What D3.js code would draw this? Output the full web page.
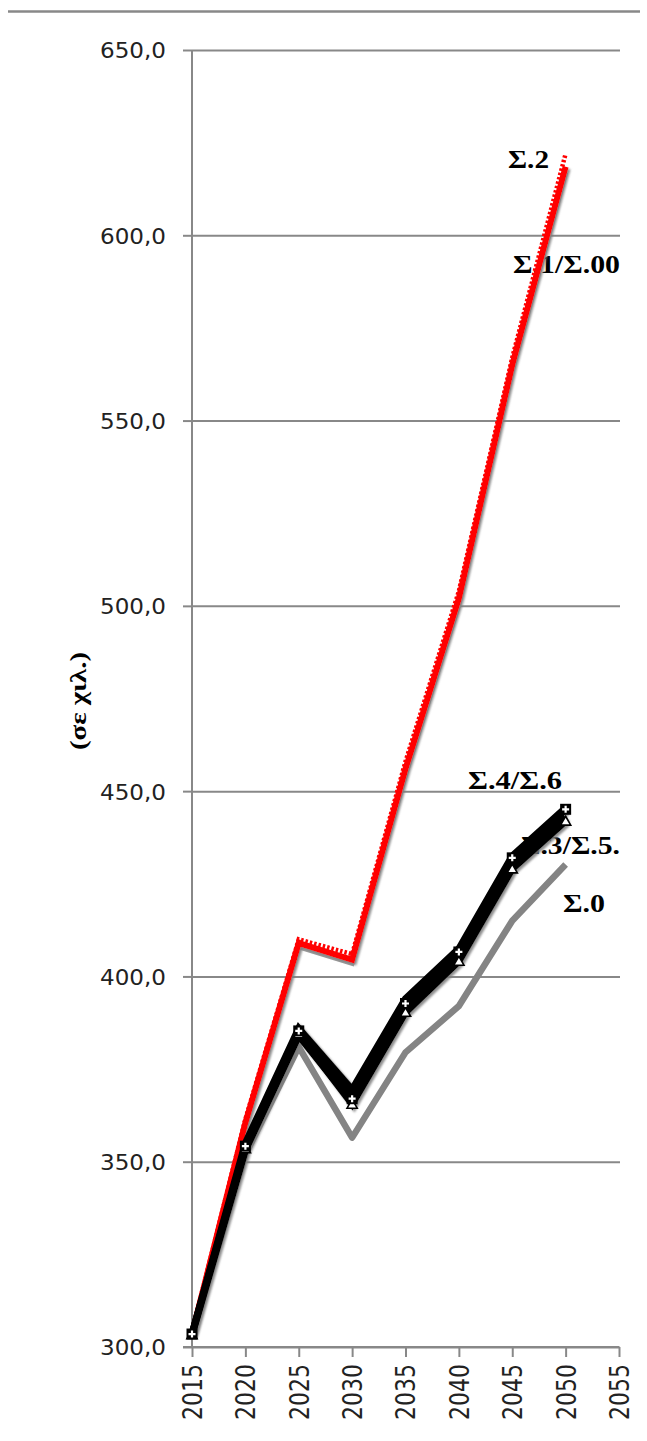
<!DOCTYPE html>
<html>
<head>
<meta charset="utf-8">
<script src="https://cdn.jsdelivr.net/npm/d3@7/dist/d3.min.js"></script>
<style>
  html, body { margin: 0; padding: 0; background: #fff; }
  svg { display: block; }
</style>
</head>
<body>
<svg id="chart" width="647" height="1441"></svg>
<script>
// ---- data ----
const years  = [2015, 2020, 2025, 2030, 2035, 2040, 2045, 2050];
const xTicks = [2015, 2020, 2025, 2030, 2035, 2040, 2045, 2050, 2055];
const yTicks = [300, 350, 400, 450, 500, 550, 600, 650];

const s2  = [304.0, 361.5, 410.0, 406.0, 458.0, 504.0, 567.0, 622.0]; // Σ.2 (dotted red)
const s1  = [303.5, 360.5, 409.0, 404.5, 456.0, 502.0, 565.0, 618.5]; // Σ.1 (red)
const s00 = [303.0, 359.5, 408.0, 403.5, 454.5, 500.5, 563.5, 617.0]; // Σ.00 (grey under red)
const s4  = [303.5, 354.2, 385.3, 367.0, 392.7, 406.6, 432.0, 445.1]; // Σ.4
const s6  = [303.5, 355.0, 386.0, 369.5, 394.0, 407.5, 432.5, 445.5]; // Σ.6
const s3  = [303.3, 353.5, 384.5, 365.5, 390.3, 404.1, 429.0, 441.9]; // Σ.3
const s5  = [303.3, 353.0, 384.0, 366.0, 390.5, 404.5, 430.0, 443.0]; // Σ.5
const s0  = [303.0, 352.0, 381.0, 356.5, 379.5, 392.0, 415.0, 430.2]; // Σ.0

const seriesLabels = ["Σ.2", "Σ.1/Σ.00", "Σ.4/Σ.6", "Σ.3/Σ.5.", "Σ.0"];
const yTitle = "(σε χιλ.)";

// ---- layout ----
const svg = d3.select("#chart");
const x = d3.scaleLinear().domain([2015, 2055]).range([192, 619]);
const y = d3.scaleLinear().domain([300, 650]).range([1347, 50]);
const fmt = v => d3.format(".1f")(v).replace(".", ",");

const defs = svg.append("defs");
const f = defs.append("filter").attr("id", "sh").attr("x", "-20%").attr("y", "-20%").attr("width", "140%").attr("height", "140%");
f.append("feDropShadow").attr("dx", 2).attr("dy", 2).attr("stdDeviation", 0.8)
  .attr("flood-color", "#7a7a7a").attr("flood-opacity", 0.85);

// top rule
svg.append("line").attr("x1", 8).attr("x2", 640).attr("y1", 11.5).attr("y2", 11.5)
  .attr("stroke", "#888").attr("stroke-width", 2.5);

// gridlines
const grid = svg.append("g").attr("transform", `translate(${x(2015)},0)`)
  .call(d3.axisLeft(y).tickValues(yTicks).tickSize(-(x(2055) + 1 - x(2015))).tickFormat(""));
grid.select(".domain").remove();
grid.selectAll(".tick line").attr("stroke", "#888").attr("stroke-width", 2);

// y axis with labels
const ya = svg.append("g").attr("transform", `translate(${x(2015)},0)`)
  .call(d3.axisLeft(y).tickValues(yTicks).tickSize(9).tickPadding(17).tickFormat(fmt));
ya.select(".domain").attr("stroke", "#888").attr("stroke-width", 2).attr("d", `M0,${y(650)}V${y(300)}`);
ya.selectAll(".tick line").attr("stroke", "#888").attr("stroke-width", 2);
ya.selectAll(".tick text")
  .attr("font-family", "'DejaVu Sans', sans-serif").attr("font-size", 22)
  .attr("fill", "#222").attr("dy", "0.36em")
  .attr("textLength", 66).attr("lengthAdjust", "spacingAndGlyphs");

// x axis
const xa = svg.append("g").attr("transform", `translate(0,${y(300)})`)
  .call(d3.axisBottom(x).tickValues(xTicks).tickSize(10).tickFormat(d3.format("d")));
xa.select(".domain").attr("stroke", "#888").attr("stroke-width", 2).attr("d", `M${x(2015) - 9},0H${x(2055)}`);
xa.selectAll(".tick line").attr("stroke", "#888").attr("stroke-width", 2);
xa.selectAll(".tick text")
  .attr("font-family", "'DejaVu Sans', sans-serif").attr("font-size", 26)
  .attr("fill", "#222")
  .attr("transform", "translate(0,17) rotate(-90)")
  .attr("text-anchor", "end").attr("x", 0).attr("y", 0).attr("dy", "0.36em")
  .attr("textLength", 56).attr("lengthAdjust", "spacingAndGlyphs");

// y axis title
svg.append("text")
  .attr("transform", `translate(86,701) rotate(-90)`)
  .attr("text-anchor", "middle")
  .attr("font-family", "'Liberation Serif', serif").attr("font-weight", "bold").attr("font-size", 24)
  .attr("textLength", 98).attr("lengthAdjust", "spacingAndGlyphs")
  .text(yTitle);

// series labels (behind lines)
const labelPos = [[508, 168, 41], [513, 273, 107], [468, 789, 94], [521, 854, 99], [563, 912, 42]];
svg.append("g").selectAll("text").data(seriesLabels).join("text")
  .attr("x", (d, i) => labelPos[i][0]).attr("y", (d, i) => labelPos[i][1])
  .attr("textLength", (d, i) => labelPos[i][2]).attr("lengthAdjust", "spacingAndGlyphs")
  .attr("font-family", "'Liberation Serif', serif").attr("font-weight", "bold").attr("font-size", 26)
  .attr("fill", "#000")
  .text(d => d);

const line = d3.line().x((d, i) => x(years[i])).y(d => y(d));

// Σ.0 grey
svg.append("path").datum(s0).attr("d", line)
  .attr("fill", "none").attr("stroke", "#848484").attr("stroke-width", 6.5).attr("stroke-linejoin", "round");

// red group
const red = svg.append("g");
red.append("path").datum(s00).attr("d", line)
  .attr("fill", "none").attr("stroke", "#9a9a9a").attr("stroke-width", 5);
red.append("path").datum(s1).attr("d", line)
  .attr("fill", "none").attr("stroke", "#ff0000").attr("stroke-width", 6).attr("filter", "url(#sh)");
red.append("path").datum(s2).attr("d", line)
  .attr("fill", "none").attr("stroke", "#ff0000").attr("stroke-width", 4.5).attr("stroke-dasharray", "2.5,2");

// black group
const blk = svg.append("g").attr("filter", "url(#sh)");
[s6, s5, s3, s4].forEach(s => {
  blk.append("path").datum(s).attr("d", line)
    .attr("fill", "none").attr("stroke", "#000").attr("stroke-width", 7).attr("stroke-linejoin", "miter");
});

// triangle markers (Σ.3)
svg.append("g").selectAll("path").data(s3).join("path")
  .attr("transform", (d, i) => `translate(${x(years[i])},${y(d) + 1})`)
  .attr("d", d3.symbol(d3.symbolTriangle, 45))
  .attr("fill", "#fff").attr("stroke", "#000").attr("stroke-width", 1.6);

// square markers with white cross (Σ.4)
const sq = svg.append("g").selectAll("g").data(s4).join("g")
  .attr("transform", (d, i) => `translate(${x(years[i])},${y(d)})`);
sq.append("rect").attr("x", -5.5).attr("y", -5.5).attr("width", 11).attr("height", 11).attr("fill", "#000");
sq.append("path").attr("d", "M-3.5,0H3.5M0,-3.5V3.5").attr("stroke", "#fff").attr("stroke-width", 2.2);
</script>
</body>
</html>
